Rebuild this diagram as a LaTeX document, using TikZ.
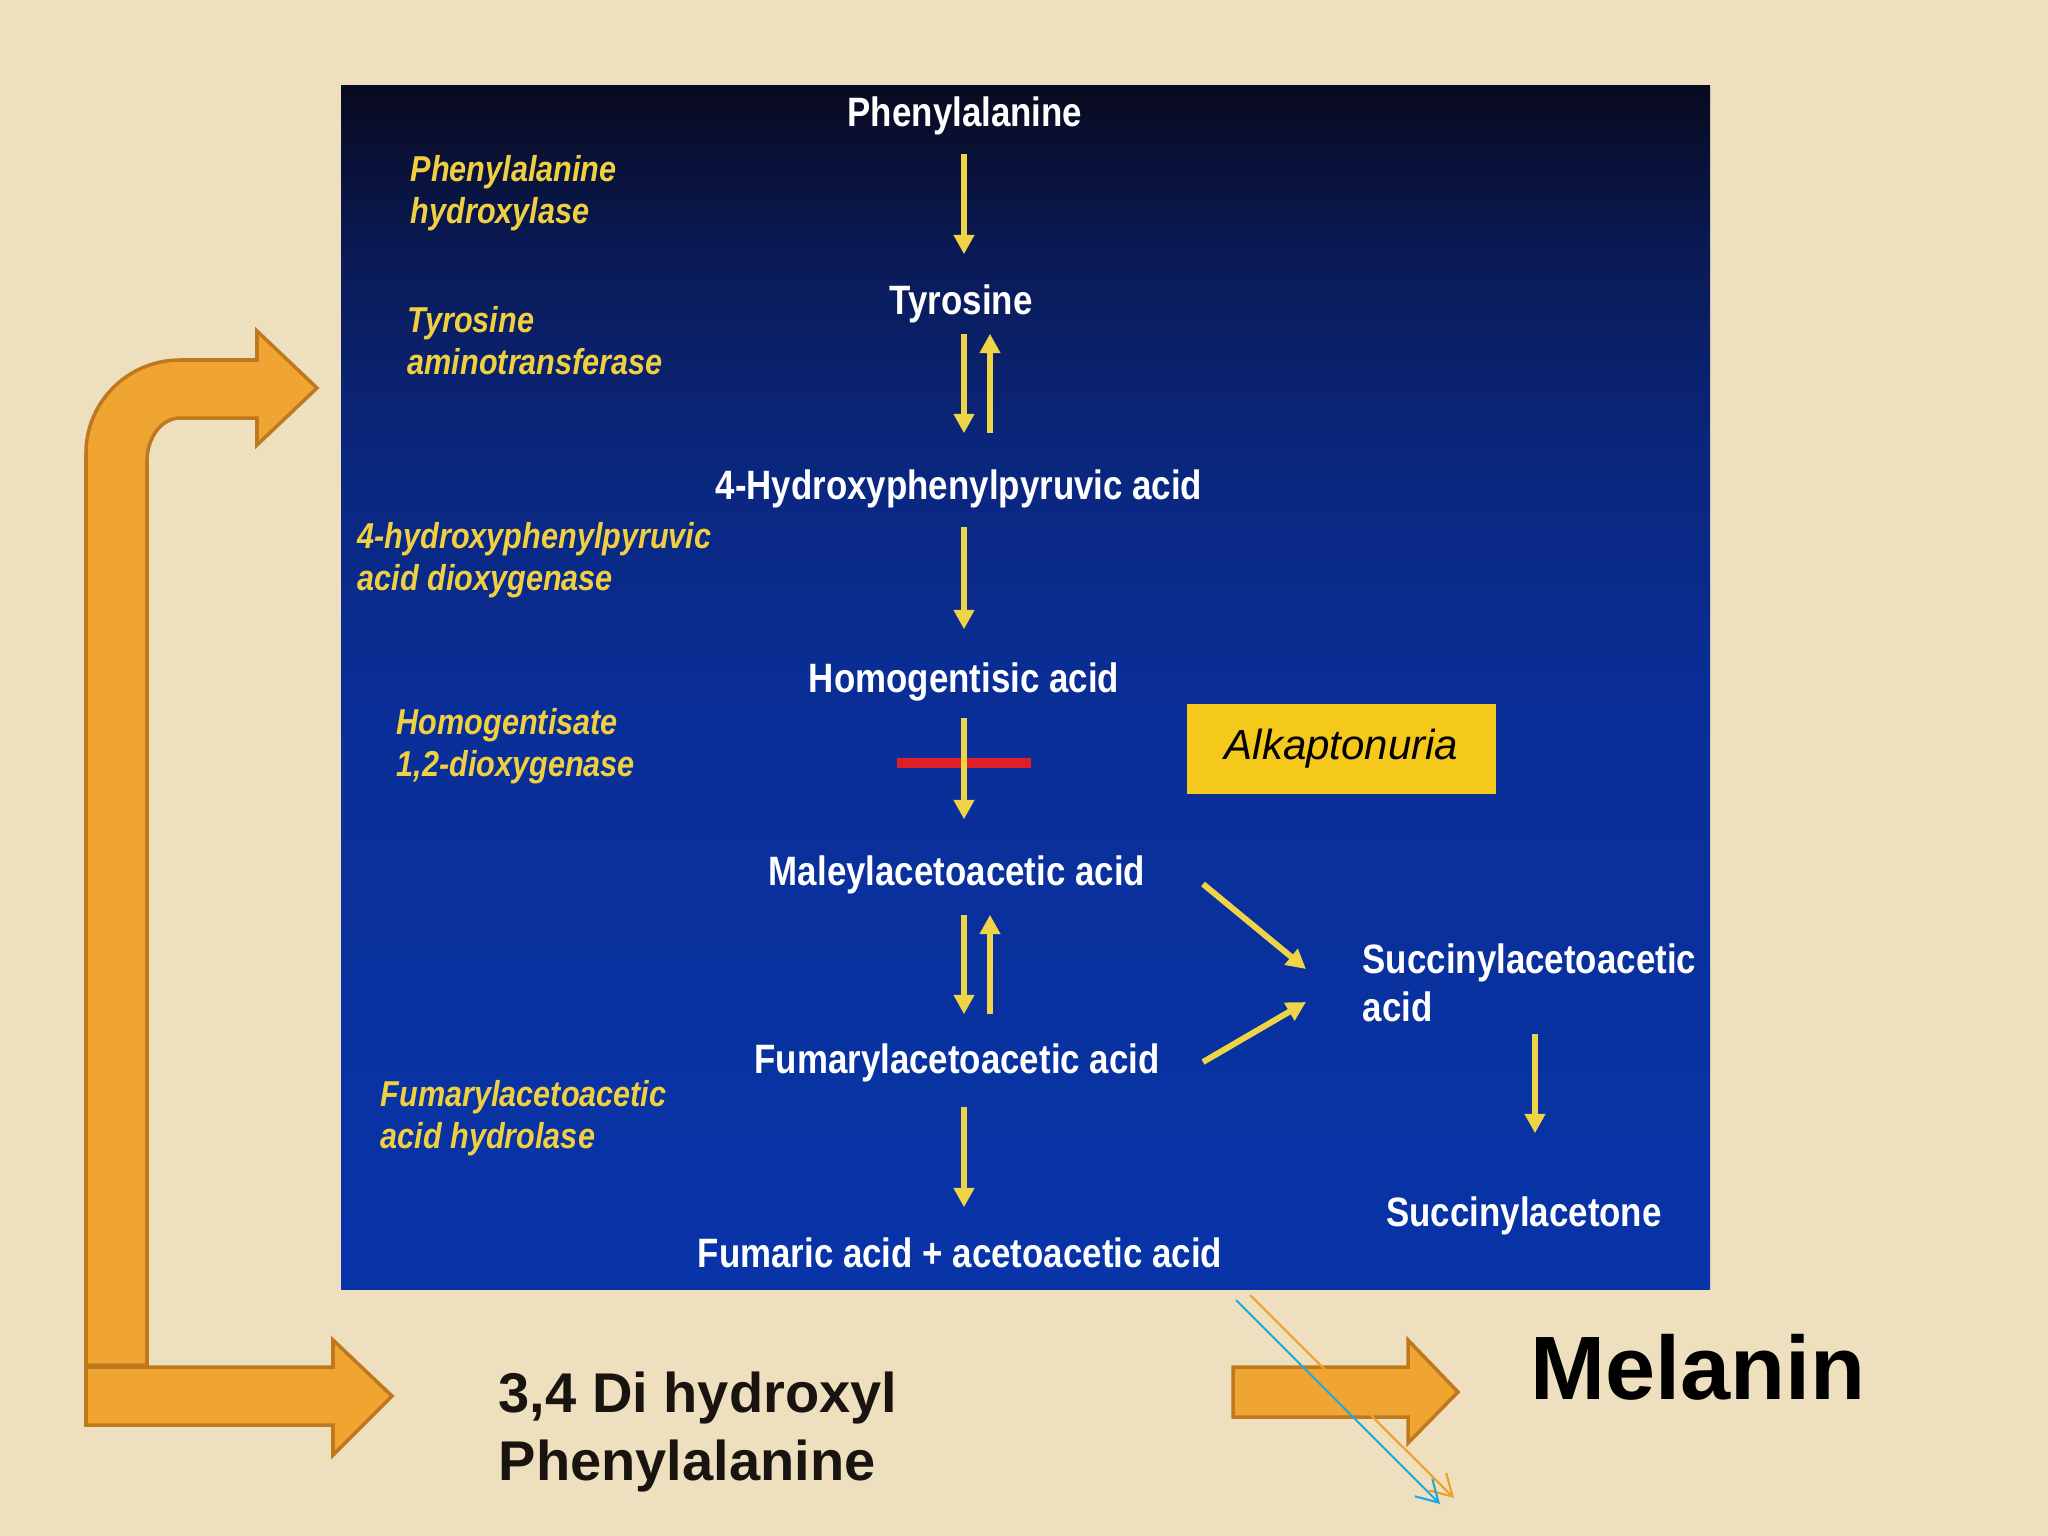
\documentclass[tikz,border=0pt]{standalone}
\usepackage{fontspec}
\setmainfont{Liberation Sans}
\newfontfamily\condfont{Liberation Sans}[FakeStretch=0.85]
\usetikzlibrary{arrows.meta,calc}
\definecolor{parch}{RGB}{238,224,190}
\definecolor{pbA}{RGB}{8,52,168}
\definecolor{pbB}{RGB}{10,46,150}
\definecolor{pbC}{RGB}{10,38,124}
\definecolor{pbD}{RGB}{10,26,86}
\definecolor{pbE}{RGB}{8,10,30}
\definecolor{enzy}{RGB}{240,208,64}
\definecolor{arrowy}{RGB}{238,212,70}
\definecolor{orfill}{RGB}{240,165,50}
\definecolor{ordraw}{RGB}{190,120,30}
\definecolor{alkfill}{RGB}{245,200,28}
\definecolor{redbar}{RGB}{222,30,40}
\definecolor{orthin}{RGB}{240,160,40}
\definecolor{bluethin}{RGB}{30,168,224}
\definecolor{darktext}{RGB}{25,20,15}
\pgfdeclareverticalshading{panelshade}{100bp}{color(0bp)=(pbA); color(25bp)=(pbA); color(50bp)=(pbB); color(60bp)=(pbC); color(68bp)=(pbD); color(75bp)=(pbE); color(100bp)=(pbE)}
\begin{document}
\begin{tikzpicture}[x=0.01cm,y=-0.01cm,
  wlab/.style={font=\condfont\bfseries\fontsize{11.67pt}{13.4pt}\selectfont, text=white, inner sep=0pt, text height=8.54pt, text depth=2.56pt},
  wlab2/.style={font=\condfont\bfseries\fontsize{11.67pt}{13.4pt}\selectfont, text=white, inner sep=0pt, align=left, anchor=north west},
  ylab/.style={font=\condfont\bfseries\itshape\fontsize{10.24pt}{11.95pt}\selectfont, text=enzy, inner sep=0pt, align=left, anchor=north west},
  yarr/.style={draw=arrowy, line width=1.7pt, -{Triangle[length=5.5pt,width=5.6pt]}},
  orshape/.style={fill=orfill, draw=ordraw, line width=1pt, line join=miter},
  thinarr/.style={line width=0.6pt, -{Straight Barb[length=6pt,width=7pt]}}]
\useasboundingbox (0,0) rectangle (2048,1536);
\fill[parch] (0,0) rectangle (2048,1536);
\shade[shading=panelshade] (341,85) rectangle (1710,1289);
% orange arrows
\draw[orshape] (86,1365) -- (86,453) .. controls (86,402) and (128,360) .. (180,360) -- (257,360) -- (257,331) -- (317,388) -- (257,445) -- (257,418) -- (180,418) .. controls (162,418) and (147,437) .. (147,461) -- (147,1365) -- cycle;
\draw[orshape] (86,1367) -- (333,1367) -- (333,1340) -- (392,1396) -- (333,1455) -- (333,1425) -- (86,1425) -- cycle;
\draw[orshape] (1233,1367) -- (1408,1367) -- (1408,1340) -- (1458,1392) -- (1408,1443) -- (1408,1417) -- (1233,1417) -- cycle;
% axes for vertical arrows
\coordinate (ax) at (964,0);
\coordinate (ax2) at (990,0);
\coordinate (sax) at (1535,0);
% metabolites
\node[wlab] (phe) at (965,116) {Phenylalanine};
\node[wlab] (tyr) at (961,304) {Tyrosine};
\node[wlab] (hpp) at (959,489) {4-Hydroxyphenylpyruvic acid};
\node[wlab] (hga) at (964,682) {Homogentisic acid};
\node[wlab] (mal) at (957,875) {Maleylacetoacetic acid};
\node[wlab] (fum) at (957,1063) {Fumarylacetoacetic acid};
\node[wlab] (fin) at (960,1257) {Fumaric acid + acetoacetic acid};
\node[wlab2] (sac) at (1362,943.5) {Succinylacetoacetic\\acid};
\node[wlab] (sacone) at (1524,1216) {Succinylacetone};
% enzymes
\node[ylab] (e1) at (410,155) {Phenylalanine\\hydroxylase};
\node[ylab] (e2) at (407,306) {Tyrosine\\aminotransferase};
\node[ylab] (e3) at (357,522) {4-hydroxyphenylpyruvic\\acid dioxygenase};
\node[ylab] (e4) at (396,708) {Homogentisate\\1,2-dioxygenase};
\node[ylab] (e5) at (380,1080) {Fumarylacetoacetic\\acid hydrolase};
% alkaptonuria
\node[fill=alkfill, minimum width=3.09cm, minimum height=0.9cm, inner sep=0pt, font=\itshape\fontsize{11.95pt}{14pt}\selectfont, text=black] (alk) at (1341.5,749) {Alkaptonuria};
% block bar
\draw[redbar, line width=2.8pt] (897,763) -- (1031,763);
% pathway arrows
\draw[yarr, shorten <=4.98pt, shorten >=8.39pt] (phe.south -| ax) -- (tyr.north -| ax);
\draw[yarr, shorten <=2.7pt, shorten >=10.1pt] (tyr.south -| ax) -- (hpp.north -| ax);
\draw[yarr, shorten <=10.1pt, shorten >=2.7pt] (hpp.north -| ax2) -- (tyr.south -| ax2);
\draw[yarr, shorten <=4.98pt, shorten >=9.25pt] (hpp.south -| ax) -- (hga.north -| ax);
\draw[yarr, shorten <=4.41pt, shorten >=10.1pt] (hga.south -| ax) -- (mal.north -| ax);
\draw[yarr, shorten <=5.55pt, shorten >=8.11pt] (mal.south -| ax) -- (fum.north -| ax);
\draw[yarr, shorten <=8.11pt, shorten >=5.55pt] (fum.north -| ax2) -- (mal.south -| ax2);
\draw[yarr, shorten <=6.69pt, shorten >=8.39pt] (fum.south -| ax) -- (fin.north -| ax);
\draw[yarr] ($(mal.center)+(246,9)$) -- ($(sac.north west)+(-56,25.5)$);
\draw[yarr] ($(fum.center)+(246,-1)$) -- ($(sac.north west)+(-56,58.5)$);
\draw[yarr, shorten <=3.27pt, shorten >=17.78pt] (sac.south -| sax) -- (sacone.north -| sax);
% bottom texts
\node[font=\bfseries\fontsize{15.93pt}{19.35pt}\selectfont, text=darktext, align=left, anchor=north west, inner sep=0pt] (dopa) at (498,1371) {3,4 Di hydroxyl\\Phenylalanine};
\node[font=\bfseries\fontsize{25.6pt}{30pt}\selectfont, text=black, anchor=base, inner sep=0pt] (mel) at (1698,1399) {Melanin};
% thin arrows
\coordinate (o1) at (1250,1295);
\coordinate (o2) at (1454,1498);
\coordinate (b1) at (1236,1300);
\coordinate (b2) at (1440,1504);
\draw[thinarr, draw=orthin] (o1) -- (o2);
\draw[thinarr, draw=bluethin] (b1) -- (b2);
\end{tikzpicture}
\end{document}
